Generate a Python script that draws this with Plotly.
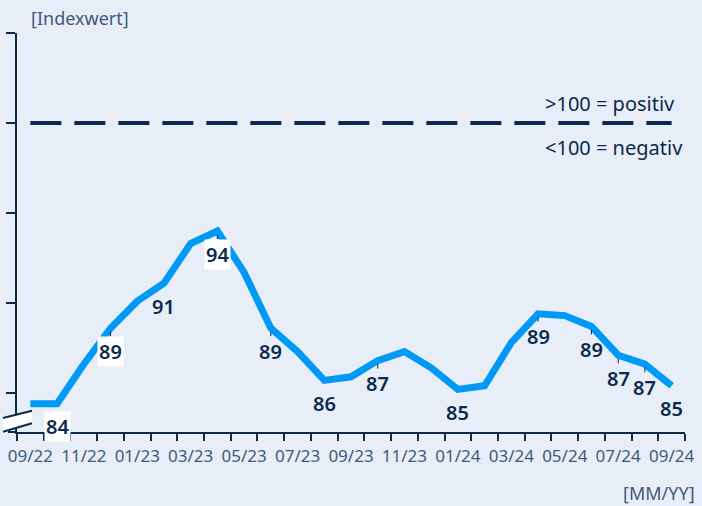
import plotly.graph_objects as go

# ---- data ----
months = ["09/22", "10/22", "11/22", "12/22", "01/23", "02/23", "03/23", "04/23",
          "05/23", "06/23", "07/23", "08/23", "09/23", "10/23", "11/23", "12/23",
          "01/24", "02/24", "03/24", "04/24", "05/24", "06/24", "07/24", "08/24", "09/24"]
index_values = [84.4, 84.4, 86.6, 88.6, 90.1, 91.1, 93.3, 94.0, 91.7, 88.6, 87.3, 85.7,
                85.9, 86.8, 87.3, 86.4, 85.2, 85.4, 87.8, 89.4, 89.3, 88.7, 87.1, 86.6, 85.4]
labelled_points = [1, 3, 5, 7, 9, 11, 13, 16, 19, 21, 22, 23, 24]
points_with_leader = [3, 7, 9, 13, 19, 21, 22, 23]
points_with_box = [1, 3, 7]
threshold = 100
y_ticks = [85, 90, 95, 100, 105]
tick_labels = [m if i % 2 == 0 else "" for i, m in enumerate(months)]

NAVY = "#0b2a4d"
BLUE = "#0099f5"
GREY = "#3f5a7a"
BG = "#e8eef7"
FONT = "Noto Sans"

fig = go.Figure()

# threshold dashed line
fig.add_trace(go.Scatter(
    x=[months[0], months[-1]], y=[threshold, threshold], mode="lines",
    line=dict(color=NAVY, width=4, dash="31px,13px"), hoverinfo="skip", showlegend=False))

# main series
fig.add_trace(go.Scatter(
    x=months, y=index_values, mode="lines",
    line=dict(color=BLUE, width=7, shape="linear"), showlegend=False))

annotations = []
for i in labelled_points:
    txt = f"{index_values[i]:.0f}"
    common = dict(x=months[i], y=index_values[i], xref="x", yref="y", text=txt,
                  font=dict(family=FONT, size=20, color=NAVY, weight=600),
                  bgcolor="white" if i in points_with_box else "rgba(0,0,0,0)",
                  borderpad=1)
    if i in points_with_leader:
        annotations.append(dict(**common, showarrow=True, arrowhead=0, arrowwidth=1,
                                arrowcolor=NAVY, ax=0, ay=23, standoff=3.5))
    else:
        annotations.append(dict(**common, showarrow=False, yshift=-23))

annotations += [
    dict(x=months[19], y=threshold, xref="x", yref="y", text="&gt;100 = positiv",
         xanchor="left", yanchor="middle", xshift=5, yshift=20, showarrow=False,
         font=dict(family=FONT, size=20, color=NAVY)),
    dict(x=months[19], y=threshold, xref="x", yref="y", text="&lt;100 = negativ",
         xanchor="left", yanchor="middle", xshift=5, yshift=-24, showarrow=False,
         font=dict(family=FONT, size=20, color=NAVY)),
    dict(x=0, y=1, xref="paper", yref="paper", text="[Indexwert]", xanchor="left",
         yanchor="middle", xshift=12, yshift=15, showarrow=False,
         font=dict(family=FONT, size=18, color=GREY)),
    dict(x=1, y=0, xref="paper", yref="paper", text="[MM/YY]", xanchor="right",
         yanchor="middle", xshift=12, yshift=-61, showarrow=False,
         font=dict(family=FONT, size=18, color=GREY)),
]

shapes = [
    # x-axis line extension to the left
    dict(type="line", xref="paper", yref="paper", xsizemode="pixel", xanchor=0,
         x0=-9, x1=0, y0=0, y1=0, line=dict(color=NAVY, width=2)),
    # axis break: white band
    dict(type="path", xref="paper", yref="paper", xsizemode="pixel", ysizemode="pixel",
         xanchor=0, yanchor=0, path="M -14 14 L 15 21.3 L 15 8.7 L -14 0.3 Z",
         fillcolor="white", line=dict(width=0), layer="above"),
    dict(type="line", xref="paper", yref="paper", xsizemode="pixel", ysizemode="pixel",
         xanchor=0, yanchor=0, x0=-14, y0=14, x1=15, y1=21.3,
         line=dict(color=NAVY, width=2), layer="above"),
    dict(type="line", xref="paper", yref="paper", xsizemode="pixel", ysizemode="pixel",
         xanchor=0, yanchor=0, x0=-14, y0=0.3, x1=15, y1=8.7,
         line=dict(color=NAVY, width=2), layer="above"),
]

y_bottom = threshold - (432 - 123) / 18
fig.update_layout(
    width=702, height=506,
    margin=dict(l=14, r=8, t=33, b=74),
    paper_bgcolor=BG, plot_bgcolor=BG,
    showlegend=False,
    annotations=annotations,
    shapes=shapes,
    xaxis=dict(type="category", categoryorder="array", categoryarray=months,
               range=[-0.5, len(months) - 0.5], tickmode="array", tickvals=months,
               ticktext=tick_labels, tickson="boundaries", ticks="outside", ticklen=7,
               tickwidth=2, tickcolor=NAVY, showline=True, linecolor=NAVY, linewidth=2,
               showgrid=False, zeroline=False, tickangle=0, ticklabelstandoff=8,
               tickfont=dict(family=FONT, size=17, color=GREY)),
    yaxis=dict(range=[y_bottom, 105], tickmode="array", tickvals=y_ticks,
               showticklabels=False, ticks="outside", ticklen=9, tickwidth=2,
               tickcolor=NAVY, showline=True, linecolor=NAVY, linewidth=2,
               showgrid=False, zeroline=False),
)

fig.write_html("out.html", config={"displayModeBar": False},
               post_script="document.body.style.margin='0';")
